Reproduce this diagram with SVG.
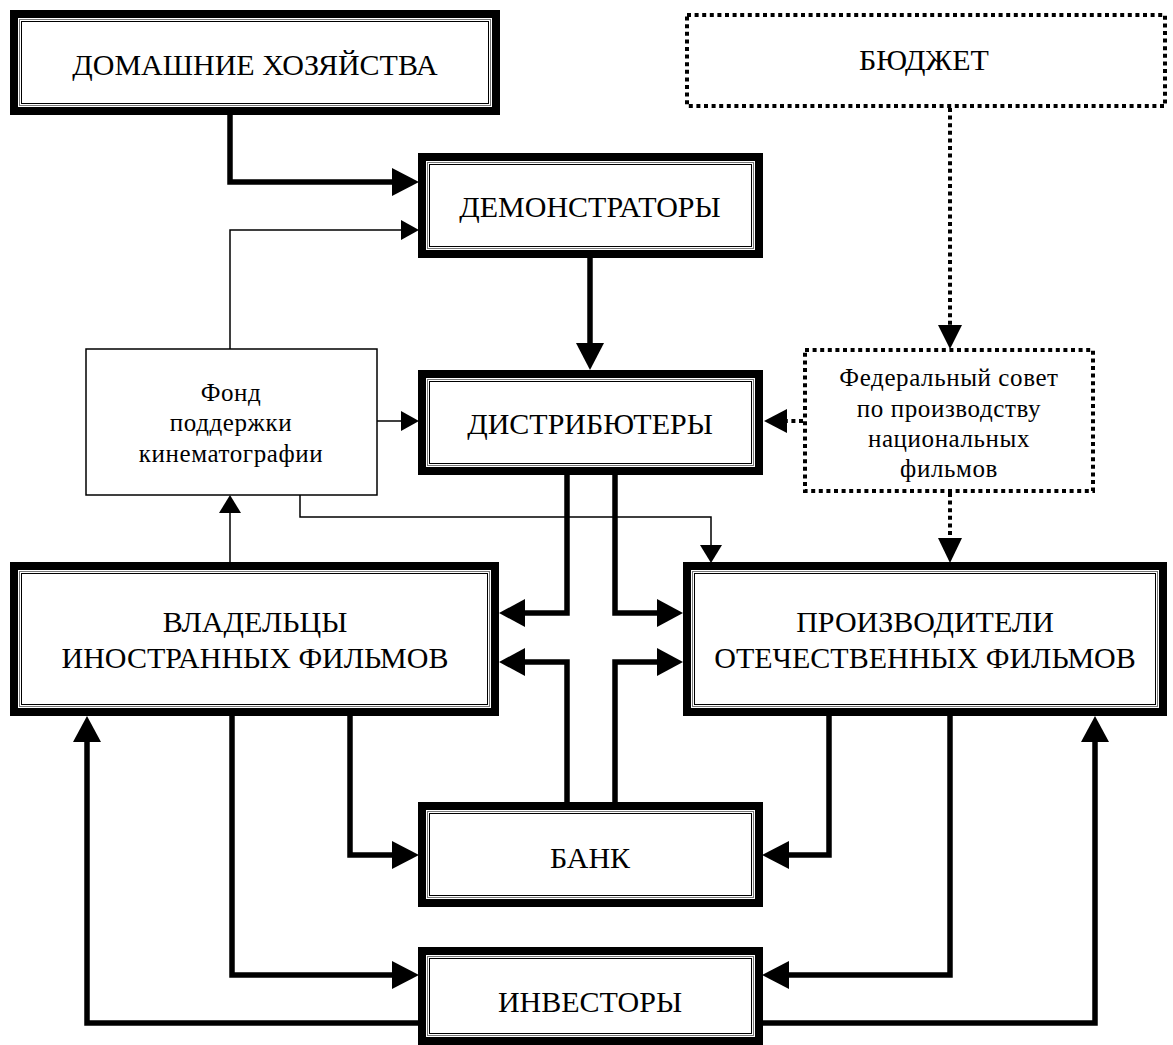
<svg xmlns="http://www.w3.org/2000/svg" width="1173" height="1045" viewBox="0 0 1173 1045">
<style>
  .band{fill:#fff;stroke:#000;stroke-width:8}
  .in1{fill:none;stroke:#777;stroke-width:1}
  .in2{fill:none;stroke:#000;stroke-width:1}
  .dotbox{fill:#fff;stroke:#000;stroke-width:4;stroke-dasharray:4 3.6}
  .thinbox{fill:#fff;stroke:#000;stroke-width:1.5}
  .t{font-size:30px;fill:#000;text-anchor:middle}
  .s{font-size:25px;fill:#000;text-anchor:middle;letter-spacing:0.6px}
  .thick{fill:none;stroke:#000;stroke-width:5.5;stroke-linejoin:miter;stroke-linecap:butt}
  .thin{fill:none;stroke:#000;stroke-width:1.5}
  .dot{fill:none;stroke:#000;stroke-width:4;stroke-dasharray:4 3.6}
  .head{fill:#000;stroke:none}
</style>
<rect width="1173" height="1045" fill="#fff"/>
<g id="connectors">
  <path class="thick" d="M230,115 V182 H394"/>
  <polygon class="head" points="392,168 419,182 392,196"/>
  <path class="thick" d="M590,258 V345"/>
  <polygon class="head" points="576,343 590,370 604,343"/>
  <path class="thick" d="M567,475 V613 H523"/>
  <polygon class="head" points="525,599 499,613 525,627"/>
  <path class="thick" d="M615,475 V613 H659"/>
  <polygon class="head" points="657,599 683,613 657,627"/>
  <path class="thick" d="M567,802 V662 H523"/>
  <polygon class="head" points="525,648 499,662 525,676"/>
  <path class="thick" d="M615,802 V662 H659"/>
  <polygon class="head" points="657,648 683,662 657,676"/>
  <path class="thick" d="M350,716 V855 H394"/>
  <polygon class="head" points="392,841 419,855 392,869"/>
  <path class="thick" d="M829,716 V855 H787"/>
  <polygon class="head" points="789,841 762,855 789,869"/>
  <path class="thick" d="M232,716 V975 H394"/>
  <polygon class="head" points="392,961 419,975 392,989"/>
  <path class="thick" d="M950,716 V975 H787"/>
  <polygon class="head" points="789,961 762,975 789,989"/>
  <path class="thick" d="M418,1023 H87 V740"/>
  <polygon class="head" points="73,742 87,716 101,742"/>
  <path class="thick" d="M763,1023 H1095 V740"/>
  <polygon class="head" points="1081,742 1095,716 1109,742"/>
  <path class="thin" d="M230,349 V230 H403"/>
  <polygon class="head" points="401,220 419,230 401,240"/>
  <path class="thin" d="M377,421 H403"/>
  <polygon class="head" points="401,411 419,421 401,431"/>
  <path class="thin" d="M230,562 V511"/>
  <polygon class="head" points="219,513 230,495 241,513"/>
  <path class="thin" d="M300,495 V517 H711 V547"/>
  <polygon class="head" points="700,545 711,563 722,545"/>
  <path class="dot" d="M950,108 V327"/>
  <polygon class="head" points="938,325 950,349 962,325"/>
  <path class="dot" d="M803,421 H785"/>
  <polygon class="head" points="787,409 764,421 787,433"/>
  <path class="dot" d="M950,493 V540"/>
  <polygon class="head" points="938,538 950,563 962,538"/>
</g>
<g font-family="'Liberation Serif', 'DejaVu Serif', serif">
<g id="home">
  <rect class="band" x="14" y="14" width="482" height="97"/>
  <rect class="in1" x="19.5" y="19.5" width="471" height="86"/>
  <rect class="in2" x="21.5" y="21.5" width="467" height="82"/>
  <text class="t" x="255" y="75">ДОМАШНИЕ ХОЗЯЙСТВА</text>
</g>
<g id="budget">
  <rect class="dotbox" x="687" y="15" width="478" height="91"/>
  <text class="t" x="924" y="70">БЮДЖЕТ</text>
</g>
<g id="demo">
  <rect class="band" x="422" y="157" width="337" height="97"/>
  <rect class="in1" x="427.5" y="162.5" width="326" height="86"/>
  <rect class="in2" x="429.5" y="164.5" width="322" height="82"/>
  <text class="t" x="590" y="217">ДЕМОНСТРАТОРЫ</text>
</g>
<g id="fund">
  <rect class="thinbox" x="86" y="349" width="291" height="146"/>
  <text class="s" x="231" y="401">Фонд</text>
  <text class="s" x="231" y="431">поддержки</text>
  <text class="s" x="231" y="462">кинематографии</text>
</g>
<g id="dist">
  <rect class="band" x="422" y="374" width="337" height="97"/>
  <rect class="in1" x="427.5" y="379.5" width="326" height="86"/>
  <rect class="in2" x="429.5" y="381.5" width="322" height="82"/>
  <text class="t" x="590" y="434">ДИСТРИБЮТЕРЫ</text>
</g>
<g id="fed">
  <rect class="dotbox" x="805" y="350" width="288" height="141"/>
  <text class="s" x="949" y="386">Федеральный совет</text>
  <text class="s" x="949" y="417">по производству</text>
  <text class="s" x="949" y="447">национальных</text>
  <text class="s" x="949" y="477">фильмов</text>
</g>
<g id="foreign">
  <rect class="band" x="14" y="566" width="481" height="146"/>
  <rect class="in1" x="19.5" y="571.5" width="470" height="135"/>
  <rect class="in2" x="21.5" y="573.5" width="466" height="131"/>
  <text class="t" x="255" y="632">ВЛАДЕЛЬЦЫ</text>
  <text class="t" x="255" y="668">ИНОСТРАННЫХ ФИЛЬМОВ</text>
</g>
<g id="prod">
  <rect class="band" x="687" y="566" width="476" height="146"/>
  <rect class="in1" x="692.5" y="571.5" width="465" height="135"/>
  <rect class="in2" x="694.5" y="573.5" width="461" height="131"/>
  <text class="t" x="925" y="632">ПРОИЗВОДИТЕЛИ</text>
  <text class="t" x="925" y="668">ОТЕЧЕСТВЕННЫХ ФИЛЬМОВ</text>
</g>
<g id="bank">
  <rect class="band" x="422" y="806" width="337" height="97"/>
  <rect class="in1" x="427.5" y="811.5" width="326" height="86"/>
  <rect class="in2" x="429.5" y="813.5" width="322" height="82"/>
  <text class="t" x="590" y="868">БАНК</text>
</g>
<g id="invest">
  <rect class="band" x="422" y="951" width="337" height="90"/>
  <rect class="in1" x="427.5" y="956.5" width="326" height="79"/>
  <rect class="in2" x="429.5" y="958.5" width="322" height="75"/>
  <text class="t" x="590" y="1012">ИНВЕСТОРЫ</text>
</g>
</g>
</svg>
